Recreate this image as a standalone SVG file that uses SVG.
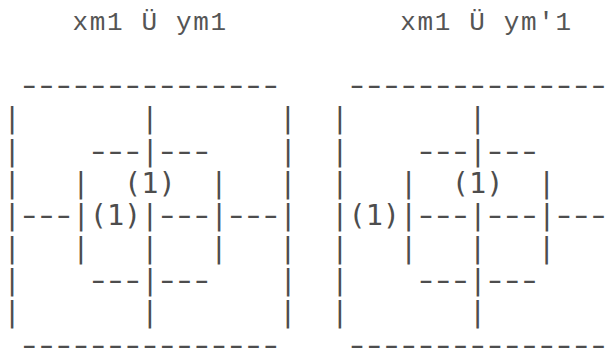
<svg xmlns="http://www.w3.org/2000/svg" width="612" height="349" viewBox="0 0 612 349" xml:space="preserve">
<style>
.t{font-family:"Liberation Mono","DejaVu Sans Mono",monospace;font-size:26px;letter-spacing:1.65px;fill:#555;white-space:pre}
.b{font-family:"DejaVu Sans Mono",monospace;font-size:28.65px;fill:#4d4d4d;white-space:pre}
.d{font-family:"DejaVu Sans Mono",monospace;font-size:28.65px;letter-spacing:-5.353px;fill:#4d4d4d;white-space:pre}
</style>
<rect width="612" height="349" fill="#fff"/>
<g id="left-figure">
<text class="t" x="72.4" y="29.8">xm1 Ü ym1</text>
<text class="b" x="3.4" y="128.2">|       |       |</text>
<text class="b" x="3.4" y="160.55">|</text>
<text class="b" x="141.4" y="160.55">|</text>
<text class="b" x="279.4" y="160.55">|</text>
<text class="b" x="3.4" y="192.9">|   |  (1)  |   |</text>
<text class="b" x="3.4" y="225.25">|</text>
<text class="b" x="72.4" y="225.25">|(1)|</text>
<text class="b" x="210.4" y="225.25">|</text>
<text class="b" x="279.4" y="225.25">|</text>
<text class="b" x="3.4" y="257.6">|   |   |   |   |</text>
<text class="b" x="3.4" y="289.95">|</text>
<text class="b" x="141.4" y="289.95">|</text>
<text class="b" x="279.4" y="289.95">|</text>
<text class="b" x="3.4" y="322.3">|       |       |</text>
<g transform="scale(1.45,1)">
<text class="d" x="11.565" y="95.5">---------------</text>
<text class="d" x="59.151" y="160.55">---</text>
<text class="d" x="106.737" y="160.55">---</text>
<text class="d" x="11.565" y="225.25">---</text>
<text class="d" x="106.737" y="225.25">---</text>
<text class="d" x="154.324" y="225.25">---</text>
<text class="d" x="59.151" y="289.95">---</text>
<text class="d" x="106.737" y="289.95">---</text>
<text class="d" x="11.565" y="354.65">---------------</text>
</g>
</g>
<g id="right-figure">
<text class="t" x="400.15" y="29.8">xm1 Ü ym'1</text>
<text class="b" x="331.15" y="128.2">|       |</text>
<text class="b" x="331.15" y="160.55">|</text>
<text class="b" x="469.15" y="160.55">|</text>
<text class="b" x="331.15" y="192.9">|   |  (1)  |</text>
<text class="b" x="331.15" y="225.25">|(1)|</text>
<text class="b" x="469.15" y="225.25">|</text>
<text class="b" x="538.15" y="225.25">|</text>
<text class="b" x="331.15" y="257.6">|   |   |   |</text>
<text class="b" x="331.15" y="289.95">|</text>
<text class="b" x="469.15" y="289.95">|</text>
<text class="b" x="331.15" y="322.3">|       |</text>
<g transform="scale(1.45,1)">
<text class="d" x="237.599" y="95.5">---------------</text>
<text class="d" x="285.185" y="160.55">---</text>
<text class="d" x="332.772" y="160.55">---</text>
<text class="d" x="285.185" y="225.25">---</text>
<text class="d" x="332.772" y="225.25">---</text>
<text class="d" x="380.358" y="225.25">---</text>
<text class="d" x="285.185" y="289.95">---</text>
<text class="d" x="332.772" y="289.95">---</text>
<text class="d" x="237.599" y="354.65">---------------</text>
</g>
</g>
</svg>
